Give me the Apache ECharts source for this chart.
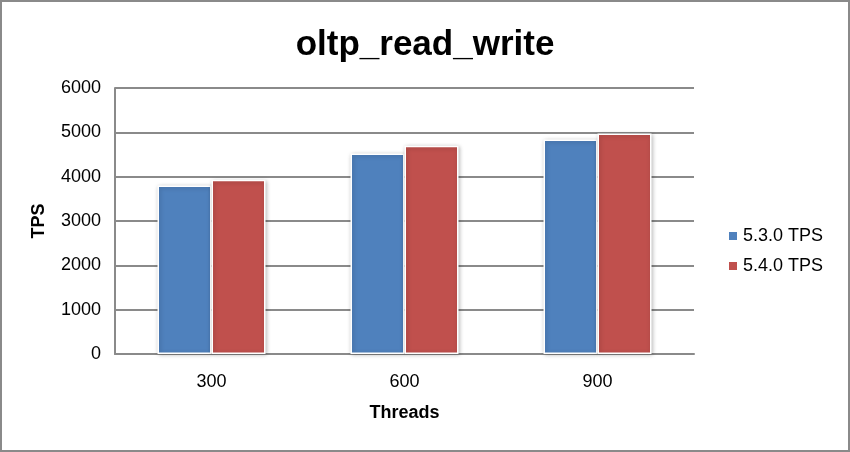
<!DOCTYPE html>
<html><head><meta charset="utf-8">
<script src="https://cdn.jsdelivr.net/npm/echarts@6/dist/echarts.min.js"></script>
<style>html,body{margin:0;padding:0;background:#fff}#c{width:850px;height:452px;box-sizing:border-box;border:2px solid #8a8a8a}</style>
</head><body><div id="c"></div>
<script>
const categories = ['300', '600', '900'];
const tps530 = [3800, 4520, 4840];
const tps540 = [3930, 4700, 4975];
const seriesNames = ['5.3.0 TPS', '5.4.0 TPS'];

const chart = echarts.init(document.getElementById('c'));
const font = 'Liberation Sans, Arial, Helvetica, sans-serif';
const barStyle = (c) => ({color: c, borderColor: '#fff', borderWidth: 1.5, shadowColor: 'rgba(0,0,0,0.25)', shadowBlur: 4, shadowOffsetX: 1, shadowOffsetY: 1});
chart.setOption({
  animation: false,
  title: {text: 'oltp_read_write', left: 'center', top: 21, textStyle: {fontFamily: font, fontSize: 35, fontWeight: 'bold', color: '#000'}},
  legend: {orient: 'vertical', left: 720, top: 220, itemWidth: 10, itemHeight: 10, itemGap: 12, itemTextGap: 9, icon: 'rect',
    textStyle: {fontFamily: font, fontSize: 18, color: '#000'}, data: seriesNames},
  grid: {left: 113, right: 154, top: 86, bottom: 96},
  xAxis: {type: 'category', data: categories, name: 'Threads', nameLocation: 'middle', nameGap: 50,
    nameTextStyle: {fontFamily: font, fontSize: 18, fontWeight: 'bold', color: '#000'},
    axisLine: {lineStyle: {color: '#8a8a8a', width: 2}}, axisTick: {show: false},
    axisLabel: {fontFamily: font, fontSize: 18, color: '#000', margin: 19}},
  yAxis: {type: 'value', min: 0, max: 6000, interval: 1000, name: 'TPS', nameLocation: 'middle', nameGap: 67, nameRotate: 90,
    nameTextStyle: {fontFamily: font, fontSize: 18, fontWeight: 'bold', color: '#000'},
    axisLine: {show: true, lineStyle: {color: '#8a8a8a', width: 2}}, axisTick: {show: false},
    axisLabel: {fontFamily: font, fontSize: 18, color: '#000', margin: 14, formatter: v => String(v)},
    splitLine: {lineStyle: {color: '#8a8a8a', width: 2}}},
  series: [
    {name: seriesNames[0], type: 'bar', data: tps530, barWidth: 54, barGap: '0%', itemStyle: barStyle('#4f81bd')},
    {name: seriesNames[1], type: 'bar', data: tps540, barWidth: 54, barGap: '0%', itemStyle: barStyle('#c0504d')}
  ]
});
</script></body></html>
